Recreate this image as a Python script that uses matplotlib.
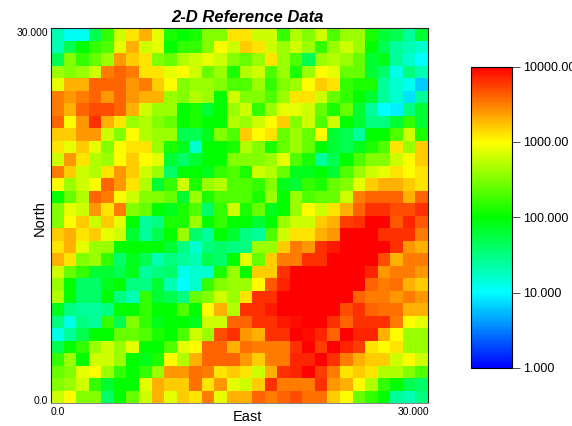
import numpy as np
import matplotlib
matplotlib.use("Agg")
import matplotlib.pyplot as plt
from matplotlib.colors import LinearSegmentedColormap, LogNorm

# cell values, as tenths of a decade (10 = 10, 20 = 100, 30 = 1000), north row first
rows_north = [
    [13,10.5,10.5,17,22,28,31,33,29,21,20,21,25,25,31, 31,28,28,22,27,25,28,23,26,26,21,18,17,14,18],
    [13,17,20,22,23,29,33,28,29,20,22,22,25,30,28, 32,31,28,26,28,26,22,26,28,26,20,17,14,13,12],
    [17,25,22,24,26,34,32,31,25,24,27,28,29,28,25, 24,26,31,26,23,17,26,27,26,24,18,19,14,12,10],
    [26,25,26,28,35,36,35,31,31,29,30,28,24,26,21, 27,28,23,26,21,26,30,29,24,24,18,16,11,15,13],
    [29,33,33,36,36,36,34,35,32,30,25,26,26,25,23, 23,26,22,25,26,30,32,31,22,21,21,14,12,10.5,8],
    [35,34,35,36,34,36,34,33,33,26,25,27,26,20,28, 25,25,23,26,31,31,28,24,22,20,18,14,12,9,14],
    [35,33,36,37,37,36,33,28,26,26,20,21,18,20,26, 28,22,26,29,29,28,24,21,24,18,14,10,9.5,15,18],
    [36,30,34,38,33,31,26,27,25,24,20,21,20,20,27, 26,28,30,32,25,28,23,28,20,18,15,15,18,22,18],
    [32,32,34,34,28,25,30,27,26,26,17,17,19,25,23, 32,30,31,24,26,24,30,18,17,14,20,20,23,28,21],
    [31,29,32,29,25,30,31,31,26,21,19,12,20,20,21, 27,25,21,24,26,24,20,18,17,19,21,23,31,26,32],
    [28,34,31,27,26,30,32,30,29,18,16,18,20,20,25, 25,25,26,29,23,21,14,17,20,23,25,25,28,30,32],
    [35,32,28,27,31,34,32,28,26,16,20,20,19,22,23, 21,28,27,24,19,19,20,18,23,26,28,29,31,30,31],
    [30,26,28,30,36,34,31,27,18,22,28,21,26,27,23, 23,22,25,19,18,22,21,24,25,29,32,33,33,32,31],
    [20,24,27,36,35,30,28,25,25,24,18,26,21,23,23, 23,21,26,20,26,23,24,24,28,35,36,36,36,33,36],
    [25,29,28,34,31,35,25,24,20,19,21,23,16,22,28, 21,24,19,20,26,30,28,31,33,36,38,38,37,37,38],
    [25,30,32,28,32,29,20,14,15,21,21,26,20,22,20, 20,18,20,26,28,28,32,33,37.5,38,40,40,36.5,38.5,36.5],
    [32,33,31,32,29,28,18,14,17,20,26,16,14,20,18, 15,14,23,28,31,31,33,34,40,40,40,38,38,38,35],
    [31,33,29,26,26,20,20,20,20,18,15,12,15,16,15, 15,26,26,32,35,34,38,39,40,40,40,40,38,34,33],
    [33,31,25,26,22,16,19,17,13,15,14,13,17,16,20, 29,24,32,35,35,38,38,40,40,40,40,37,33,35,35],
    [28,24,22,18,18,17,19,14,15,16,11,12,12,21,26, 20,32,32,38,40,40,40,40,40,40,38.5,34,35,35,34],
    [26,20,16,16,19,20,15,15,18,13,10,12,22,25,26, 26,30,36.5,38.5,40,40,40,40,40,40,36,35,35.5,33,32],
    [27,20,16,16,20,15,13,22,18,17,15,24,25,28,26, 31,38,38,40,40,40,40,40,40,36,35,35,34,35,34],
    [19,15,14,14,15,20,20,22,20,20,23,20,30,33,27, 38,38,39,40,40,40,40,40,37,38,36,35.5,35.5,33,33],
    [15,11,15,14,22,17,25,22,19,20,20,19,28,28,36, 36,38,38,39,39.5,40,40,38,36,38,38,38,35,30,29],
    [11,14,17,20,20,24,24,23,21,20,23,28,26,37,38, 34,33,38,38,40,39.5,38.5,36,40,38.5,38.5,33,30,26,26],
    [17,20,22,26,28,26,29,20,20,23,29,30,36,36,33, 35.5,35,35,35,38,40,37.5,40,38.5,37.5,31,30,31,26,26],
    [22,26,20,28,28,26,20,19,21,30,27,33,36,36,36, 34,32,35,35,38.5,38.5,40,38,35,33,32,32,28,30,28],
    [24,25,29,30,26,22,20,22,26,34,34,35.5,35,31,32, 31,28,33,38,38.5,40,37.5,35,31,32,31,27,27,25,23],
    [25,26,28,22,18,20,20,29,33,32,32,35.5,31,34,29, 28,32,38,35,35,35,38,34,33,30,27,22,20,17,16],
    [28,30,25,25,16,20,24,28,33,29,32,31,35,29,33, 33,36,35,36,37,35.5,35.5,32,30,24,22,20,14,13,15],
]
east_edges = np.linspace(0, 30, 31)
north_edges = np.linspace(0, 30, 31)
bar_ticks = [1, 10, 100, 1000, 10000]
bar_labels = ["1.000", "10.000", "100.000", "1000.00", "10000.00"]

plt.rcParams["font.family"] = "Liberation Sans"

W, H = 572, 426
fig = plt.figure(figsize=(W / 100, H / 100), dpi=100)

# rainbow with one hue step per decade
cmap = LinearSegmentedColormap.from_list(
    "decades", ["#0000ff", "#00ffff", "#00ff00", "#ffff00", "#ff0000"], N=256)
norm = LogNorm(1, 10000)

ax = fig.add_axes([51 / W, 1 - 403 / H, 377 / W, 375 / H])
field = 10 ** (np.array(rows_north)[::-1] / 10)
mesh = ax.pcolormesh(east_edges, north_edges, field, cmap=cmap, norm=norm)
ax.set_xticks([])
ax.set_yticks([])
for side in ax.spines.values():
    side.set_linewidth(0.8)
    side.set_color("#222222")
ax.spines["bottom"].set_color("#888888")

fig.text(247 / W, 1 - 17 / H, "2-D Reference Data", fontsize=12, fontweight="bold",
         fontstyle="italic", ha="center", va="center")
fig.text(247 / W, 1 - 417 / H, "East", fontsize=10.5, ha="center", va="center")
fig.text(40 / W, 1 - 218 / H, "North", fontsize=10.5, rotation=90, ha="center", va="center")
fig.text(48 / W, 1 - 33 / H, "30.000", fontsize=7.5, ha="right", va="center")
fig.text(48 / W, 1 - 401 / H, "0.0", fontsize=7.5, ha="right", va="center")
fig.text(51 / W, 1 - 412 / H, "0.0", fontsize=7.5, ha="left", va="center")
fig.text(429 / W, 1 - 412 / H, "30.000", fontsize=7.5, ha="right", va="center")

cax = fig.add_axes([470.5 / W, 1 - 368 / H, 41 / W, 301.5 / H])
bar = fig.colorbar(mesh, cax=cax)
bar.set_ticks(bar_ticks, labels=bar_labels)
bar.minorticks_off()
bar.ax.tick_params(length=6, width=0.6, labelsize=9, pad=2, color="#333333")
bar.outline.set_linewidth(0.8)

fig.savefig("out.png", dpi=100)
